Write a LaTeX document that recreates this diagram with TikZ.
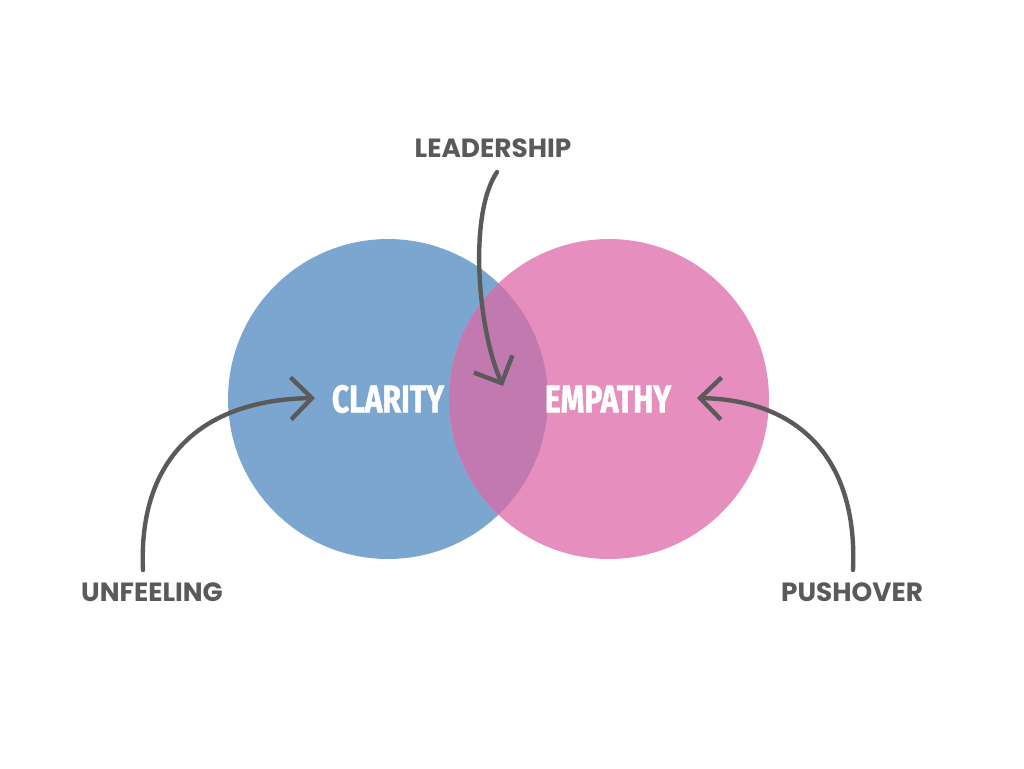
\documentclass[tikz,border=0pt]{standalone}
\usepackage{fontspec}
\setmainfont{Poppins}
\newfontfamily\condfont[FakeStretch=0.78, BoldFeatures={FakeBold=1.2}]{Fira Sans}
\usetikzlibrary{arrows.meta}

\definecolor{blau}{RGB}{123,166,207}
\definecolor{rosa}{RGB}{230,143,190}
\definecolor{misch}{RGB}{194,121,176}
\definecolor{grau}{RGB}{90,90,90}

\begin{document}
\begin{tikzpicture}[
        x=0.02cm, y=-0.02cm,
        kreis/.style={circle, minimum size=6.4cm, inner sep=0pt},
        wort/.style={text=white, font=\condfont\bfseries\fontsize{22}{22}\selectfont},
        etikett/.style={text=grau, font=\bfseries\fontsize{15}{15}\selectfont},
        pinsel/.style={draw=grau, line width=2.5pt, line cap=round,
                       -{Straight Barb[length=12pt, width=24pt, line width=2.5pt]}}
        ]
            \useasboundingbox (0,0) rectangle (1024,768);

            % Kreise
            \node (C) [kreis, fill=blau] at (388,399) {};
            \node (E) [kreis, fill=rosa] at (609,399) {};
            \begin{scope}
                \clip (C.center) circle (3.2cm);
                \fill [misch] (E.center) circle (3.2cm);
            \end{scope}

            \node (CL) [wort] at (388,399) {CLARITY};
            \node (EM) [wort] at (608,399) {EMPATHY};

            % Beschriftungen
            \node (L) [etikett] at (493,148) {LEADERSHIP};
            \node (U) [etikett] at (152,592) {UNFEELING};
            \node (P) [etikett] at (852,592) {PUSHOVER};

            % Pfeile
            \coordinate (l0) at (497,172);
            \coordinate (l1) at (503,386);
            \coordinate (u0) at (143,570);
            \coordinate (u1) at (315,398);
            \coordinate (p0) at (853,570);
            \coordinate (p1) at (697,398);

            \draw [pinsel] (l0) .. controls (468,215) and (478,330) .. (l1);
            \draw [pinsel] (u0) .. controls (138,460) and (200,400) .. (u1);
            \draw [pinsel] (p0) .. controls (858,460) and (800,400) .. (p1);

        \end{tikzpicture}
\end{document}
